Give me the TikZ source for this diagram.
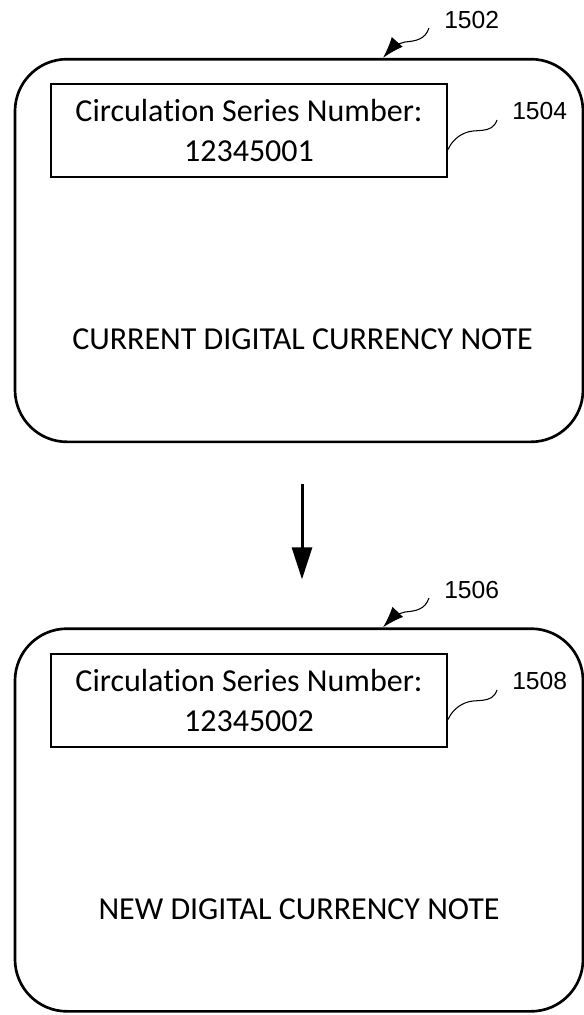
\documentclass[tikz,border=0pt]{standalone}
\usepackage{fontspec}
\setmainfont{Carlito}[Ligatures=NoCommon]
\newfontfamily\lblfont{Liberation Sans}
\usetikzlibrary{arrows.meta,calc}

\begin{document}
\begin{tikzpicture}[x=0.75pt,y=-0.75pt,
	note/.style={draw,shape=rectangle,line width=2pt,rounded corners=39pt,minimum width=426pt,minimum height=287pt},
	serial/.style={draw,shape=rectangle,line width=1.5pt,minimum width=297pt,minimum height=69.75pt,align=center,font=\fontsize{24}{30}\selectfont},
	caption/.style={font=\fontsize{24}{30}\selectfont},
	refnum/.style={inner sep=0pt,font=\lblfont\fontsize{18.5}{22}\selectfont},
	leader/.style={line width=0.8pt}]
		
		\useasboundingbox (0,0) rectangle (584,1015);
		
		% current note
		\node[note] (cur) at (299,250.5) {};
		\node[serial] (curser) at (249,130.5) {Circulation Series Number:\\12345001};
		\node[caption,anchor=base] (curtxt) at (302.5,349) {CURRENT DIGITAL CURRENCY NOTE};
		\node[refnum,anchor=base west] (lbl1502) at (444,28) {1502};
		\node[refnum,anchor=base west] (lbl1504) at (512,119) {1504};
		
		% new note
		\node[note] (new) at (299,820) {};
		\node[serial] (newser) at (249,700.5) {Circulation Series Number:\\12345002};
		\node[caption,anchor=base] (newtxt) at (299,919) {NEW DIGITAL CURRENCY NOTE};
		\node[refnum,anchor=base west] (lbl1506) at (444,598) {1506};
		\node[refnum,anchor=base west] (lbl1508) at (512,689) {1508};
		
		\draw[-{Triangle[length=24pt,width=15pt]},line width=2.25pt] ($(cur.south)+(3,41)$) -- ($(new.north)+(3,-48)$);
		
		% leaders
		\foreach \a/\b in {lbl1502/cur,lbl1506/new}
		\draw[leader,-{Latex[length=16pt,width=11pt]}] ($(\a.base west)+(-15,0)$) .. controls ($(\a.base west)+(-19,12)$) and ($(\a.base west)+(-29,13)$) .. ($(\a.base west)+(-39,14)$) .. controls ($(\a.base west)+(-46,15)$) and ($(\a.base west)+(-54,22)$) .. ($(\b.north)+(84,0)$);
		\foreach \a/\b in {lbl1504/curser,lbl1508/newser}
		\draw[leader] ($(\a.base west)+(-15,1)$) .. controls ($(\a.base west)+(-20,16)$) and ($(\a.base west)+(-37,9)$) .. ($(\a.base west)+(-47,14)$) .. controls ($(\a.base west)+(-57,18)$) and ($(\a.base west)+(-62,26)$) .. ($(\b.east)+(0,19)$);
		
\end{tikzpicture}
\end{document}
